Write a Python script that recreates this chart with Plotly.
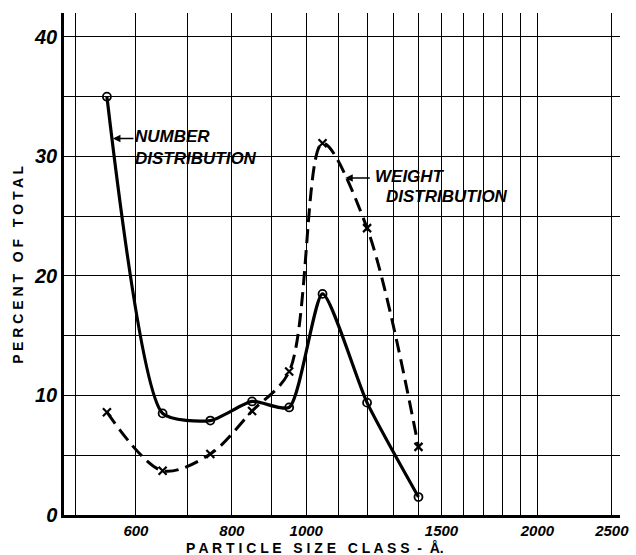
import math
import plotly.graph_objects as go

# Particle size classes (Angstrom) and percentage of total
size_class = [550, 650, 750, 850, 950, 1050, 1200, 1400]
number_pct = [35.0, 8.5, 7.9, 9.5, 9.0, 18.5, 9.4, 1.5]
weight_pct = [8.6, 3.7, 5.1, 8.7, 12.0, 31.1, 24.0, 5.7]

# Log-scale grid lines and their labels
x_grid = [500, 600, 700, 800, 900, 1000, 1100, 1200, 1300, 1400, 1500,
          1600, 1700, 1800, 1900, 2000, 2500]
x_labels = {600: "600", 800: "800", 1000: "1000", 1500: "1500",
            2000: "2000", 2500: "2500"}
y_grid = [0, 5, 10, 15, 20, 25, 30, 35, 40]
y_labels = {0: "0", 10: "10", 20: "20", 30: "30", 40: "40"}

FONT = "Liberation Sans"
lg = math.log10  # annotations on a log axis take log10 positions


def lab(s):
    return f"<b><i>{s}</i></b>" if s else ""


fig = go.Figure()

fig.add_trace(go.Scatter(
    x=size_class, y=weight_pct, mode="lines+markers",
    line=dict(color="black", width=3, dash="14px,7px", shape="spline",
              smoothing=0.9),
    marker=dict(symbol="x-thin", size=8, line=dict(color="black", width=2.2)),
    showlegend=False,
))
fig.add_trace(go.Scatter(
    x=size_class, y=number_pct, mode="lines+markers",
    line=dict(color="black", width=3.2, shape="spline", smoothing=0.6),
    marker=dict(symbol="circle-open", size=8, color="black",
                line=dict(color="black", width=1.8)),
    showlegend=False,
))

ann_font = dict(family=FONT, size=17, color="black")
title_font = dict(family=FONT, size=14, color="black")
annotations = [
    # NUMBER DISTRIBUTION label + arrow
    dict(x=lg(560), y=31.5, ax=22, ay=0, text=" ", showarrow=True,
         arrowhead=2, arrowsize=1, arrowwidth=1.5, arrowcolor="black",
         font=dict(size=1)),
    dict(x=lg(595), y=32.6, xanchor="left", yanchor="top", align="left",
         text=lab("NUMBER") + "<br>" + lab("DISTRIBUTION"),
         showarrow=False, font=ann_font),
    # WEIGHT DISTRIBUTION label + arrow
    dict(x=lg(1124), y=28.2, ax=26, ay=0, text=" ", showarrow=True,
         arrowhead=2, arrowsize=1, arrowwidth=1.5, arrowcolor="black",
         font=dict(size=1)),
    dict(x=lg(1222), y=29.3, xanchor="left", yanchor="top",
         text=lab("WEIGHT"), showarrow=False, font=ann_font),
    dict(x=lg(1263), y=27.6, xanchor="left", yanchor="top",
         text=lab("DISTRIBUTION"), showarrow=False, font=ann_font),
    # axis titles
    dict(xref="paper", yref="paper", x=0.451, y=-0.066,
         xanchor="center", yanchor="middle", showarrow=False,
         text="<b>P A R T I C L E   S I Z E   C L A S S  -  Å.</b>",
         font=title_font),
    dict(xref="paper", yref="paper", x=-0.083, y=0.498,
         xanchor="center", yanchor="middle", showarrow=False, textangle=-90,
         text="<b>P E R C E N T   O F   T O T A L</b>",
         font=title_font),
]

fig.update_layout(
    width=636, height=555,
    margin=dict(l=64, r=16, t=13, b=40),
    paper_bgcolor="white", plot_bgcolor="white",
    font=dict(family=FONT, color="black"),
    annotations=annotations,
    xaxis=dict(
        type="log", range=[lg(483.6), lg(2562)],
        automargin=False,
        tickmode="array", tickvals=x_grid,
        ticktext=[lab(x_labels.get(v, "")) for v in x_grid],
        tickfont=dict(family=FONT, size=15, color="black"),
        showgrid=True, gridcolor="black", gridwidth=1,
        showline=True, linecolor="black", linewidth=2.5,
        ticks="", zeroline=False,
    ),
    yaxis=dict(
        range=[0, 42],
        automargin=False,
        tickmode="array", tickvals=y_grid,
        ticktext=[lab(y_labels.get(v, "")) for v in y_grid],
        tickfont=dict(family=FONT, size=20, color="black"),
        showgrid=True, gridcolor="black", gridwidth=1,
        showline=True, linecolor="black", linewidth=2.5,
        ticks="", zeroline=False,
    ),
)

fig.write_html("out.html")
